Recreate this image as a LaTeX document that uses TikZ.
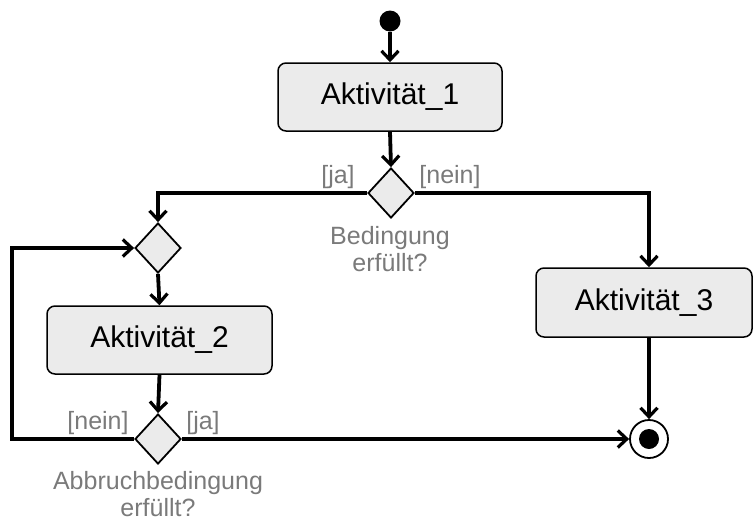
\documentclass[tikz,border=0pt]{standalone}
\usepackage{fontspec}
\setmainfont{Liberation Sans}
\usetikzlibrary{shapes.geometric,arrows.meta}
\definecolor{boxfill}{HTML}{EBEBEB}
\definecolor{lbl}{HTML}{7A7A7A}
\begin{document}
\begin{tikzpicture}[x=1pt,y=-1pt,
  act/.style={draw=black,line width=1.5pt,fill=boxfill,rounded corners=8pt,
    inner sep=0pt,font=\fontsize{30}{34}\selectfont},
  dec/.style={diamond,draw=black,line width=1.8pt,fill=boxfill,inner sep=0pt,
    minimum width=46pt,minimum height=50pt},
  arr/.style={line width=3.8pt,-{Straight Barb[length=9pt,width=17pt,line width=3.2pt]}},
  glbl/.style={text=lbl,inner sep=0pt,font=\fontsize{25}{27}\selectfont,align=center}]
\useasboundingbox (0,0) rectangle (755,520);
% nodes
\node[circle,fill=black,minimum size=21pt,inner sep=0pt] (start) at (390,21) {};
\node[act,minimum width=224pt,minimum height=68pt] (A1) at (390,97) {Aktivität\_1};
\node[dec] (d1) at (391,193) {};
\node[dec] (d2) at (158,248) {};
\node[act,minimum width=225pt,minimum height=68pt] (A2) at (159.5,340) {Aktivität\_2};
\node[dec] (d3) at (158,439) {};
\node[act,minimum width=216pt,minimum height=69pt] (A3) at (644,302.5) {Aktivität\_3};
\node[circle,draw=black,line width=1.8pt,fill=white,minimum size=38pt,inner sep=0pt] (fin) at (649,439) {};
\node[circle,fill=black,minimum size=20pt,inner sep=0pt] (finc) at (fin.center) {};
\coordinate (loopc) at (12,439);
% labels
\node[glbl] (l1) at (338,177) {[ja]};
\node[glbl] (l2) at (450,177) {[nein]};
\node[glbl] (l3) at (390,249) {Bedingung\\erfüllt?};
\node[glbl] (l4) at (98,423) {[nein]};
\node[glbl] (l5) at (203,423) {[ja]};
\node[glbl] (l6) at (158,494) {Abbruchbedingung\\erfüllt?};
% connectors
\draw[arr] (start) -- (A1.north);
\draw[arr] (A1.south) -- (d1.north);
\draw[arr] (d1.west) -| (d2.north);
\draw[arr] (d1.east) -| (fin |- A3.north);
\draw[arr] (d2.south) -- (A2.north);
\draw[arr] (A2.south) -- (d3.north);
\draw[arr] (d3.east) -- (fin.west);
\draw[arr] (d3.west) -- (loopc) |- (d2.west);
\draw[arr] (fin |- A3.south) -- (fin.north);
\end{tikzpicture}
\end{document}
